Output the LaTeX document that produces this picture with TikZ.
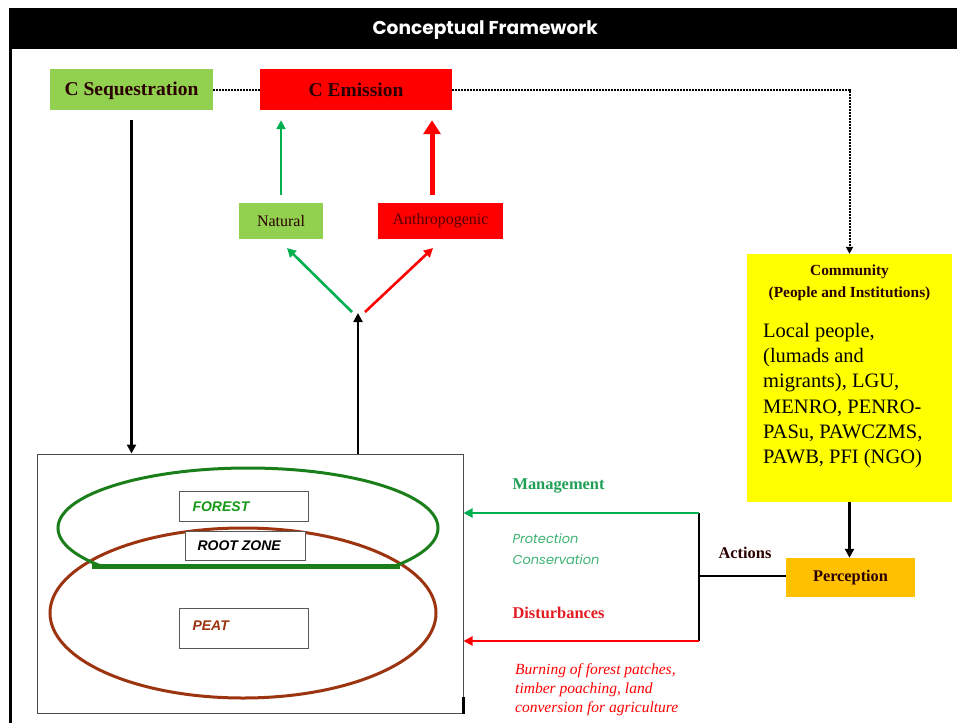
\documentclass[tikz,border=0pt]{standalone}
\usepackage{fontspec}
\setmainfont{Liberation Serif}
\newfontfamily\hdrfont{Poppins}
\newfontfamily\arialfont{Liberation Sans}
\usetikzlibrary{arrows.meta,calc}
\definecolor{lgreen}{HTML}{92D050}
\definecolor{agreen}{HTML}{00B050}
\definecolor{dgreen}{HTML}{1A7F1A}
\definecolor{brownc}{HTML}{9C3410}
\definecolor{yel}{HTML}{FFFF00}
\definecolor{orng}{HTML}{FFC000}
\definecolor{mgreen}{HTML}{1FA055}
\definecolor{pgreen}{HTML}{3CB371}
\definecolor{dred}{HTML}{E31B23}
\definecolor{darktxt}{HTML}{2A0000}
\begin{document}
\begin{tikzpicture}[x=1pt,y=-1pt,
  boxc/.style={draw=none,inner sep=0pt,align=center},
  lab/.style={font=\bfseries\fontsize{19.5}{21}\selectfont},
  small/.style={font=\fontsize{16}{18}\selectfont},
  inner/.style={draw=gray!70!black,line width=0.8pt,fill=white,inner sep=0pt},
  arr/.style={-{Triangle[length=9pt,width=9pt]},line width=2.6pt},
  dot/.style={line width=2pt,dash pattern=on 1.6pt off 1.4pt},
  itl/.style={font=\arialfont\bfseries\itshape\fontsize{14}{16}\selectfont},
  side/.style={font=\bfseries\fontsize{16.4}{18}\selectfont,anchor=west}
]
\useasboundingbox (0,0) rectangle (957,723);
% header and frame
\node[fill=black,minimum width=948pt,minimum height=41pt,inner sep=0pt,anchor=north west] (hdr) at (9,8) {};
\node[text=white,font=\hdrfont\bfseries\fontsize{18.6}{20}\selectfont] (title) at ($(hdr.center)+(2,1.5)$) {Conceptual Framework};
\draw[line width=2.5pt] (hdr.south west) ++(1.5,0) coordinate (lf) -- (lf |- 0,723);

% top boxes
\node[boxc,fill=lgreen,minimum width=163pt,minimum height=41pt,lab,text=darktxt] (seq) at (131.5,89.5) {};
\node[lab,text=darktxt] (seqt) at (131.5,91) {C Sequestration};
\node[boxc,fill=red,minimum width=192pt,minimum height=41pt] (emis) at (356,89.5) {};
\node[lab,text=darktxt] (emist) at (356,90) {C Emission};
\node[boxc,fill=lgreen,minimum width=84pt,minimum height=36pt,small,text=darktxt] (nat) at (281,221) {Natural};
\node[boxc,fill=red,minimum width=125pt,minimum height=36pt,small,text=darktxt!80!red] (anth) at (440.5,221) {Anthropogenic};

% community
\node[boxc,fill=yel,minimum width=205pt,minimum height=248pt] (comm) at (849.5,378) {};
\node[font=\bfseries\fontsize{15.4}{22}\selectfont,align=center,text=darktxt,anchor=north] (commt) at (849.5,261) {Community\\(People and Institutions)};
\node[font=\fontsize{20.5}{25.2}\selectfont,align=left,anchor=north west,inner sep=0pt] (commb) at (763,323) {Local people,\\(lumads and\\migrants), LGU,\\MENRO, PENRO-\\PASu, PAWCZMS,\\PAWB, PFI (NGO)};
\node[boxc,fill=orng,minimum width=129pt,minimum height=39pt,font=\bfseries\fontsize{16.3}{18}\selectfont,text=darktxt] (perc) at (850.5,577.5) {Perception};

% big box
\node[draw=gray!60!black,line width=1pt,minimum width=426pt,minimum height=259pt,inner sep=0pt] (big) at (250,583.5) {};
\coordinate (tick) at (463,697);
\draw[line width=3pt] (tick) -- (tick |- big.south);
% ellipses
\draw[brownc,line width=3pt] (243,613) ellipse [x radius=193pt,y radius=85pt];
\begin{scope}
\clip (0,0) rectangle (957,566);
\draw[dgreen,line width=3pt] (248,528) ellipse [x radius=190pt,y radius=60pt];
\end{scope}
\coordinate (rl) at (92,566);
\coordinate (rr) at (400,566);
\draw[dgreen,line width=5pt] (rl) -- (rr);
\node[inner,minimum width=129pt,minimum height=30pt] (forest) at (243.5,506) {};
\node[itl,text=dgreen!80!green,anchor=west] (forestt) at (189,507) {FOREST};
\node[inner,minimum width=120pt,minimum height=29pt] (root) at (245,545.5) {};
\node[itl,anchor=west] (roott) at (194,546) {ROOT ZONE};
\node[inner,minimum width=129pt,minimum height=40pt] (peat) at (243.5,628) {};
\node[itl,text=brownc,anchor=west] (peatt) at (189,626) {PEAT};

% arrows upper
\coordinate (split) at (358,313);
\draw[arr] (big.north -| split) -- (split);
\coordinate (gs) at (352,312);
\coordinate (gt) at (287,248);
\draw[arr,agreen] (gs) -- (gt);
\coordinate (rs) at (365,312);
\coordinate (rt) at (433,248);
\draw[arr,red] (rs) -- (rt);
\draw[arr,agreen,shorten <=8pt,shorten >=10pt] (nat.north) -- (nat.north |- emis.south);
\coordinate (an) at ($(anth.north)+(-8.5,0)$);
\draw[-{Triangle[length=14pt,width=17pt]},line width=5pt,red,shorten <=8pt,shorten >=10pt] (an) -- (an |- emis.south);
\draw[arr,shorten <=10pt] (seq.south) -- (seq.south |- big.north);

% dotted
\draw[dot] (seq.east) -- (emis.west);
\draw[dot,-{Triangle[length=7pt,width=7pt]}] (emis.east) -- (emis.east -| comm.north) -- (comm.north);
\draw[arr] (comm.south) -- (comm.south |- perc.north);

% actions
\coordinate (mt) at (699,513);
\coordinate (mb) at (699,641);
\coordinate (act) at (699,576);
\draw[line width=2.2pt] (mt) -- (mb);
\draw[line width=2.2pt] (perc.west |- act) -- (act);
\draw[arr,agreen] (mt) -- (mt -| big.east);
\draw[arr,red] (mb) -- (mb -| big.east);
\node[side,text=mgreen] (mgmt) at (509,486) {Management};
\node[font=\hdrfont\itshape\fontsize{13}{21.5}\selectfont,text=pgreen,align=left,anchor=west] (prot) at (509,549) {Protection\\Conservation};
\node[side,text=darktxt] (acts) at (715,553) {Actions};
\node[side,text=dred] (dist) at (509,613) {Disturbances};
\node[font=\itshape\fontsize{15.5}{19}\selectfont,text=red,align=left,anchor=north west,inner sep=0pt] (burn) at (515,663) {Burning of forest patches,\\timber poaching, land\\conversion for agriculture};
\end{tikzpicture}
\end{document}
